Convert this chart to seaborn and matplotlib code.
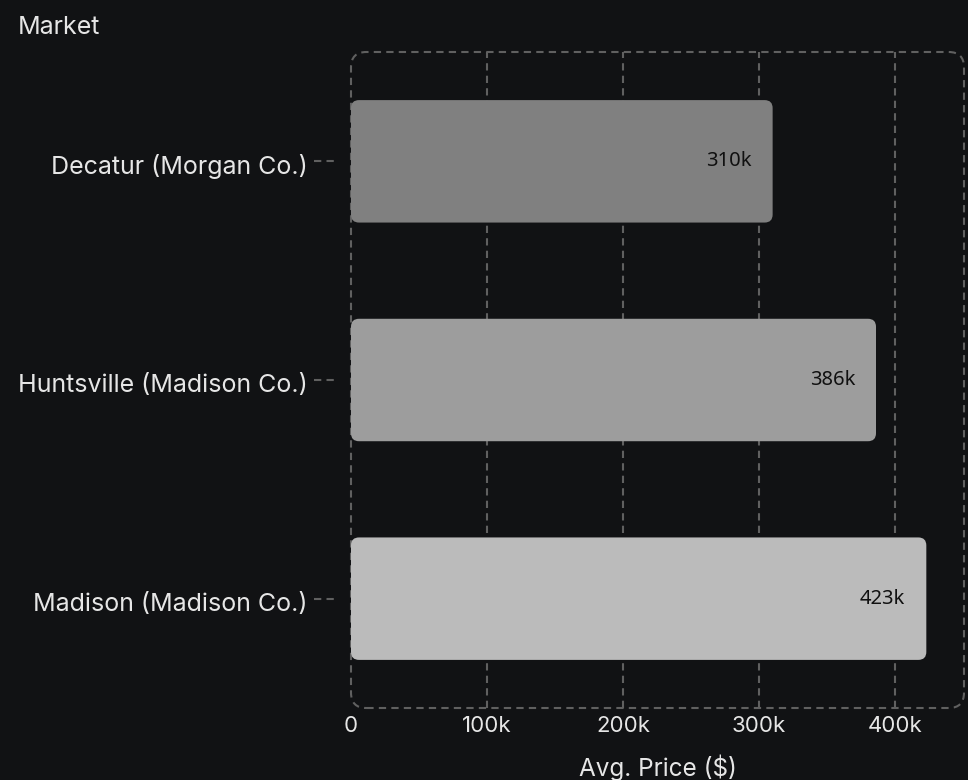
import matplotlib
matplotlib.use("Agg")
import matplotlib.pyplot as plt
import seaborn as sns
import pandas as pd
from matplotlib.patches import FancyBboxPatch
import matplotlib.transforms as mtransforms

markets = ["Decatur (Morgan Co.)", "Huntsville (Madison Co.)", "Madison (Madison Co.)"]
avg_price = [310000, 386000, 423000]
value_labels = ["310k", "386k", "423k"]
bar_colors = ["#808080", "#9d9d9d", "#bbbbbb"]
x_ticks = [0, 100000, 200000, 300000, 400000]
x_tick_labels = ["0", "100k", "200k", "300k", "400k"]

BG = "#111214"
TXT = "#e6e6e6"
GRID = "#606060"
DASH = (0, (3.5, 2.5))

sns.set_theme(style="dark")
plt.rcParams['font.family'] = ['Inter', 'DejaVu Sans']

df = pd.DataFrame({"Market": markets, "Avg. Price ($)": avg_price})

fig = plt.figure(figsize=(9.68, 7.80), dpi=100, facecolor=BG)
ax = fig.add_axes([351/968, 72/780, 613/968, 656/780])
ax.set_facecolor(BG)

sns.barplot(data=df, y="Market", x="Avg. Price ($)", hue="Market",
            palette=bar_colors, orient="h", width=0.56, ax=ax,
            legend=False, saturation=1)

ax.set_xlim(0, 450700)
ax.set_ylim(2.5, -0.5)

# rounded bars replacing rectangles
xpp = 450700 / 613.0
ypp = 3.0 / 656.0
for p in list(ax.patches):
    x0, y0 = p.get_x(), p.get_y()
    w, h = p.get_width(), p.get_height()
    fc = p.get_facecolor()
    p.set_visible(False)
    fb = FancyBboxPatch((x0, y0), w, h,
                        boxstyle=f"round,pad=0,rounding_size={8*xpp}",
                        mutation_aspect=ypp / xpp,
                        facecolor=fc, edgecolor="none", zorder=3)
    ax.add_patch(fb)

# value labels
for i, (v, lab) in enumerate(zip(avg_price, value_labels)):
    ax.annotate(lab, xy=(v, i), xytext=(-15, 0), textcoords="offset points",
                ha="right", va="center", fontsize=14.5, color="#111111",
                family=["Noto Sans", "DejaVu Sans"], zorder=5)

# grid
ax.set_xticks(x_ticks)
ax.set_xticklabels(x_tick_labels)
ax.grid(False)
for xt in x_ticks[1:]:
    ax.axvline(xt, color=GRID, lw=1.5, ls=DASH, zorder=1)

for s in ax.spines.values():
    s.set_visible(False)

# rounded dashed frame
frame = FancyBboxPatch((0, 0), 1, 1, boxstyle="round,pad=0,rounding_size=0.025",
                       transform=ax.transAxes, mutation_aspect=613/656,
                       facecolor="none", edgecolor=GRID, lw=1.5,
                       ls=DASH, clip_on=False, zorder=2)
ax.add_patch(frame)

# dashed y ticks
trans = mtransforms.blended_transform_factory(ax.transAxes, ax.transData)
for i in range(len(markets)):
    ax.plot([-37/613, -15/613], [i, i], color=GRID, lw=1.5, ls=DASH,
            transform=trans, clip_on=False)

ax.tick_params(axis="y", length=0, pad=31, labelsize=18, labelcolor=TXT)
ax.tick_params(axis="x", length=0, pad=6, labelsize=16, labelcolor=TXT)
shift = mtransforms.ScaledTranslation(0, -3/100, fig.dpi_scale_trans)
for lbl in ax.get_yticklabels():
    lbl.set_transform(lbl.get_transform() + shift)
ax.set_ylabel("")
ax.set_xlabel("Avg. Price ($)", fontsize=17.5, color=TXT, labelpad=13)
fig.text(18/968, 1 - 28/780, "Market", fontsize=18, color=TXT, ha="left", va="center")

fig.savefig("out.png", dpi=100, facecolor=BG)
